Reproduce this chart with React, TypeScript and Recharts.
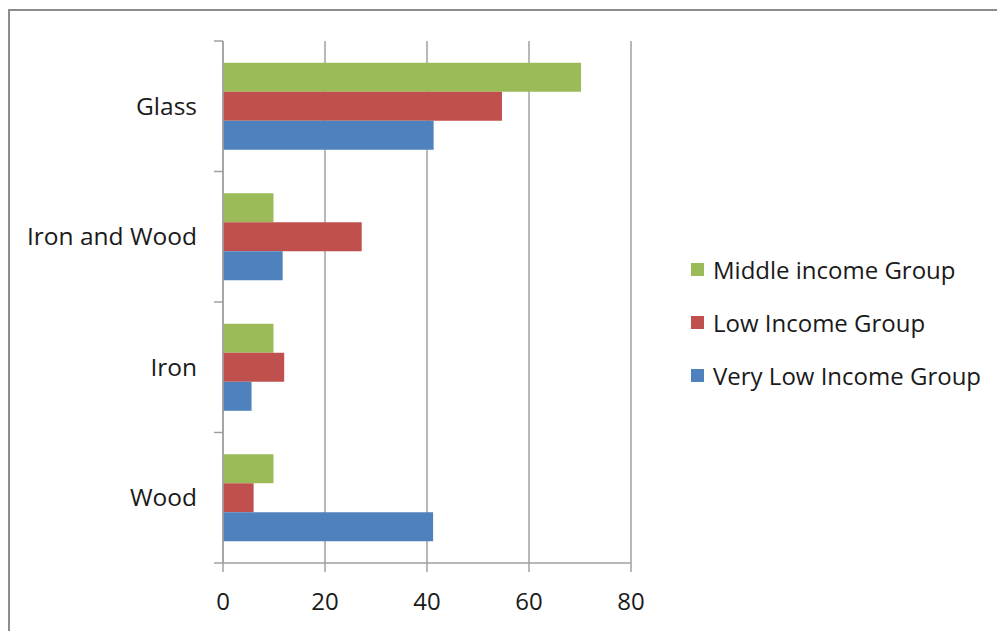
import { Bar, BarChart, CartesianGrid, XAxis, YAxis } from "recharts";

const categories = ["Glass", "Iron and Wood", "Iron", "Wood"];
const middleIncome = [70.2, 9.9, 9.9, 9.9];
const lowIncome = [54.7, 27.2, 12, 6];
const veryLowIncome = [41.3, 11.7, 5.6, 41.2];
const xTicks = [0, 20, 40, 60, 80];

const series = [
  { key: "middle", name: "Middle income Group", color: "#9BBB59", values: middleIncome },
  { key: "low", name: "Low Income Group", color: "#C0504D", values: lowIncome },
  { key: "veryLow", name: "Very Low Income Group", color: "#4F81BD", values: veryLowIncome },
];

const data = categories.map((name, i) => {
  const row: Record<string, string | number> = { name };
  series.forEach((s) => {
    row[s.key] = s.values[i];
  });
  return row;
});

const FONT = "'Open Sans', 'DejaVu Sans', sans-serif";
const AXIS = "#a0a0a0";

// category label plus the Excel-style tick marks on the band edges
function CategoryTick(props: any) {
  const { x, y, payload, index, visibleTicksCount } = props;
  const half = payload?.offset ?? 65;
  const last = index === visibleTicksCount - 1;
  return (
    <g>
      <line x1={x - 9} x2={x} y1={y - half} y2={y - half} stroke={AXIS} strokeWidth={1.5} />
      {last && <line x1={x - 9} x2={x} y1={y + half} y2={y + half} stroke={AXIS} strokeWidth={1.5} />}
      <text
        x={x - 26}
        y={y}
        dy="0.35em"
        textAnchor="end"
        fontFamily={FONT}
        fontSize={24.5}
        fill="#1a1a1a"
      >
        {payload.value}
      </text>
    </g>
  );
}

function LegendBox() {
  return (
    <div
      style={{
        position: "absolute",
        left: 683,
        top: 235,
        fontFamily: FONT,
        fontSize: 24,
        color: "#1a1a1a",
      }}
    >
      {series.map((s) => (
        <div key={s.key} style={{ display: "flex", alignItems: "center", height: 53, whiteSpace: "nowrap" }}>
          <span style={{ width: 13, height: 13, background: s.color, marginRight: 9 }} />
          <span>{s.name}</span>
        </div>
      ))}
    </div>
  );
}

export default function App() {
  return (
    <div style={{ position: "relative", width: 997, height: 623, overflow: "hidden", background: "#fff" }}>
      <div
        style={{
          position: "absolute",
          left: 0,
          top: 1,
          width: 1200,
          height: 900,
          borderTop: "2px solid #8c8c8c",
          borderLeft: "2px solid #8c8c8c",
        }}
      />
      <BarChart
        width={997}
        height={623}
        data={data}
        layout="vertical"
        margin={{ top: 33, right: 374, bottom: 0, left: 0 }}
        barCategoryGap="16.7%"
        barGap={0}
        style={{ position: "absolute", left: 0, top: 0 }}
      >
        <CartesianGrid horizontal={false} stroke={AXIS} strokeWidth={1.5} />
        <XAxis
          type="number"
          domain={[0, 80]}
          ticks={xTicks}
          height={68}
          tickSize={9}
          tickMargin={21}
          axisLine={{ stroke: AXIS, strokeWidth: 1.5 }}
          tickLine={{ stroke: AXIS, strokeWidth: 1.5 }}
          tick={{ fontFamily: FONT, fontSize: 24, fill: "#1a1a1a" }}
        />
        <YAxis
          type="category"
          dataKey="name"
          width={215}
          tickSize={0}
          tickMargin={0}
          tickLine={false}
          axisLine={{ stroke: AXIS, strokeWidth: 1.5 }}
          tick={<CategoryTick />}
          interval={0}
        />
        {series.map((s) => (
          <Bar key={s.key} dataKey={s.key} name={s.name} fill={s.color} isAnimationActive={false} />
        ))}
      </BarChart>
      <LegendBox />
    </div>
  );
}
